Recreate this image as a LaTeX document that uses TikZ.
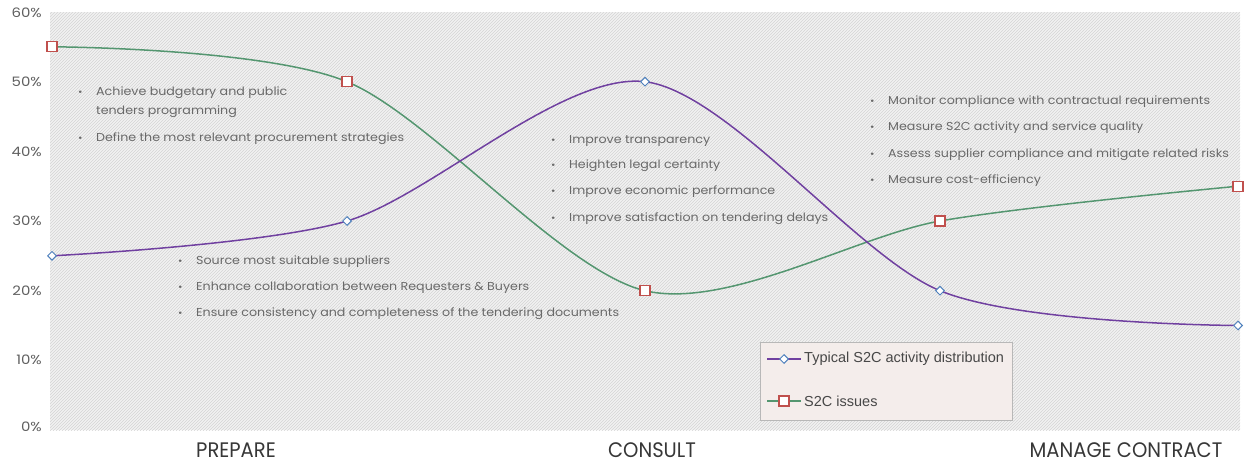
\documentclass[tikz,border=0pt]{standalone}
\usepackage{graphicx}
\usepackage{fontspec}
\setmainfont{Poppins}
\newfontfamily\legendfont{Liberation Sans}
\newfontfamily\widefont[FakeStretch=1.1]{Poppins}
\newfontfamily\tickfont[FakeStretch=1.15]{Poppins}
\newfontfamily\catfont[FakeStretch=0.93]{Poppins}
\usetikzlibrary{patterns,shapes.geometric,calc}

\definecolor{actline}{RGB}{112,64,160}
\definecolor{issline}{RGB}{84,150,112}
\definecolor{actmark}{RGB}{79,129,189}
\definecolor{issmark}{RGB}{192,80,77}
\definecolor{bodytext}{RGB}{105,105,105}
\definecolor{axistext}{RGB}{95,95,95}
\definecolor{cattext}{RGB}{55,55,55}
\definecolor{legendfill}{RGB}{244,237,235}

% small bullet followed by a fixed gap
\newcommand{\bul}{\makebox[18pt][l]{\raisebox{0.5pt}{\scalebox{0.85}{•}}}}

\begin{document}
\begin{tikzpicture}[x=1pt,y=-1pt,
  tick/.style={anchor=east, font=\tickfont\fontsize{13}{15}\selectfont, text=axistext, inner sep=0},
  item/.style={anchor=west, font=\widefont\fontsize{11.5}{19}\selectfont, text=bodytext, inner sep=0, align=left},
  cat/.style={font=\catfont\fontsize{21}{23}\selectfont, text=cattext, inner sep=0},
  actcurve/.style={draw=actline, line width=1.5pt},
  isscurve/.style={draw=issline, line width=1.5pt},
  actdot/.style={diamond, draw=actmark, fill=white, line width=1pt, minimum size=9pt, inner sep=0},
  issdot/.style={rectangle, draw=issmark, fill=white, line width=1.2pt, minimum size=10pt, inner sep=0},
  legtext/.style={anchor=west, font=\legendfont\fontsize{14.5}{16}\selectfont, text=black!72, inner sep=0}
]
\useasboundingbox (0,0) rectangle (1246,463);

% plot area with fine hatching
\fill[white!95!black] (50,12) rectangle (1240,430);
\fill[pattern=north east lines, pattern color=black!17] (50,12) rectangle (1240,430);

% value axis
\node[tick] (t60) at (42,13)  {60\%};
\node[tick] (t50) at (42,82)  {50\%};
\node[tick] (t40) at (42,152) {40\%};
\node[tick] (t30) at (42,221) {30\%};
\node[tick] (t20) at (42,291) {20\%};
\node[tick] (t10) at (42,360) {10\%};
\node[tick] (t0)  at (42,427) {0\%};

% categories
\node[cat] (prep) at (236,450) {PREPARE};
\node[cat] (cons) at (652,450) {CONSULT};
\node[cat] (mgmt) at (1126,450) {MANAGE CONTRACT};

% data points (y = 430 - 6.967 * value)
\coordinate (a1) at (52,255.8);
\coordinate (a2) at (347,221);
\coordinate (a3) at (645,81.7);
\coordinate (a4) at (940,290.7);
\coordinate (a5) at (1238,325.5);
\coordinate (b1) at (52,46.8);
\coordinate (b2) at (347,81.7);
\coordinate (b3) at (645,290.7);
\coordinate (b4) at (940,221);
\coordinate (b5) at (1238,186.2);

% series
\draw[isscurve] plot[smooth, tension=0.5] coordinates {(b1) (b2) (b3) (b4) (b5)};
\draw[actcurve] plot[smooth, tension=0.5] coordinates {(a1) (a2) (a3) (a4) (a5)};
\foreach \p in {a1,a2,a3,a4,a5} \node[actdot] (m\p) at (\p) {};
\foreach \p in {b1,b2,b3,b4,b5} \node[issdot] (m\p) at (\p) {};

% objectives per phase
\node[item] (p1) at (78,102.5) {\bul Achieve budgetary and public\\\hspace*{18pt}tenders programming};
\node[item] (p2) at (78,139) {\bul Define the most relevant procurement strategies};

\node[item] (s1) at (178,262) {\bul Source most suitable suppliers};
\node[item] (s2) at (178,288) {\bul Enhance collaboration between Requesters \& Buyers};
\node[item] (s3) at (178,314) {\bul Ensure consistency and completeness of the tendering documents};

\node[item] (c1) at (551,141) {\bul Improve transparency};
\node[item] (c2) at (551,166) {\bul Heighten legal certainty};
\node[item] (c3) at (551,192) {\bul Improve economic performance};
\node[item] (c4) at (551,219) {\bul Improve satisfaction on tendering delays};

\node[item] (g1) at (870,102) {\bul Monitor compliance with contractual requirements};
\node[item] (g2) at (870,128) {\bul Measure S2C activity and service quality};
\node[item] (g3) at (870,155) {\bul Assess supplier compliance and mitigate related risks};
\node[item] (g4) at (870,181) {\bul Measure cost-efficiency};

% legend
\node[draw=black!28, fill=legendfill, line width=0.6pt, minimum width=252pt, minimum height=78pt, anchor=north west, inner sep=0] (leg) at (760,342) {};
\coordinate (la0) at (767,359);
\coordinate (la1) at (801,359);
\coordinate (lb0) at (767,401);
\coordinate (lb1) at (801,401);
\draw[actline, line width=1.3pt] (la0) -- (la1);
\draw[issline, line width=1.3pt] (lb0) -- (lb1);
\node[actdot] (lam) at ($(la0)!0.5!(la1)$) {};
\node[issdot] (lbm) at ($(lb0)!0.5!(lb1)$) {};
\node[legtext] (lat) at (804,359) {Typical S2C activity distribution};
\node[legtext] (lbt) at (804,401) {S2C issues};
\end{tikzpicture}
\end{document}
